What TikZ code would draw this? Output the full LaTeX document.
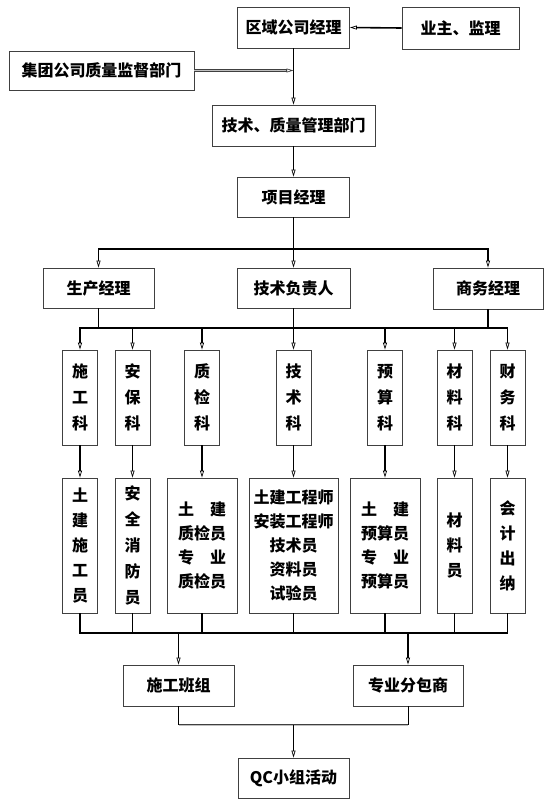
\documentclass[tikz,border=0pt]{standalone}
\usepackage{fontspec}
\setmainfont{Noto Sans CJK SC}
\usetikzlibrary{arrows.meta}

\begin{document}
\begin{tikzpicture}[x=1pt, y=-1pt,
		kasten/.style={draw=black!75, line width=0.8pt, inner sep=0pt, align=center, font=\fontsize{16}{24}\selectfont\bfseries},
		spalte/.style={kasten, minimum width=35pt, minimum height=95pt, font=\fontsize{16}{26}\selectfont\bfseries},
		stab/.style={kasten, minimum width=35pt, minimum height=135pt, font=\fontsize{16}{25}\selectfont\bfseries},
		feld/.style={kasten, minimum height=135pt},
		linie/.style={line width=1.6pt, line cap=rect},
		spitze/.tip={Triangle[open, length=7pt, width=4pt, line width=0.7pt]},
		pfeil/.style={line width=1.6pt, -spitze},
		doppel/.style={draw=black!75, double=black!25, double distance=0.7pt, line width=0.8pt}]
			\useasboundingbox (0,0) rectangle (552,809);
			
			% Leitungsebene
			\node[kasten, minimum width=112pt, minimum height=41pt] (qy) at (293.5,27.5) {区域公司经理};
			\node[kasten, minimum width=117pt, minimum height=42pt] (yz) at (460.5,28) {业主、监理};
			\node[kasten, minimum width=185pt, minimum height=39pt] (jt) at (101.5,70.5) {集团公司质量监督部门};
			\node[kasten, minimum width=163pt, minimum height=41pt] (jszl) at (293.5,125.5) {技术、质量管理部门};
			\node[kasten, minimum width=112pt, minimum height=40pt] (xm) at (293.5,197) {项目经理};
			\node[kasten, minimum width=111pt, minimum height=40pt] (sc) at (98.5,288) {生产经理};
			\node[kasten, minimum width=113pt, minimum height=40pt] (js) at (293.5,288) {技术负责人};
			\node[kasten, minimum width=110pt, minimum height=41pt] (sw) at (488,288.5) {商务经理};
			
			% Abteilungen
			\node[spalte] (k1) at (80,397.5) {施\\工\\科};
			\node[spalte] (k2) at (132.5,397.5) {安\\保\\科};
			\node[spalte] (k3) at (202,397.5) {质\\检\\科};
			\node[spalte] (k4) at (293.5,397.5) {技\\术\\科};
			\node[spalte] (k5) at (385,397.5) {预\\算\\科};
			\node[spalte] (k6) at (454.5,397.5) {材\\料\\科};
			\node[spalte] (k7) at (507.5,397.5) {财\\务\\科};
			
			% Personal
			\node[stab] (p1) at (80,545.5) {土\\建\\施\\工\\员};
			\node[stab, font=\fontsize{16}{26}\selectfont\bfseries] (p2) at (132.5,545.5) {安\\全\\消\\防\\员};
			\node[feld, minimum width=70pt] (p3) at (202,545.5) {土\hspace{1em}建\\质检员\\专\hspace{1em}业\\质检员};
			\node[feld, minimum width=89pt] (p4) at (293.5,545.5) {土建工程师\\安装工程师\\技术员\\资料员\\试验员};
			\node[feld, minimum width=70pt] (p5) at (385,545.5) {土\hspace{1em}建\\预算员\\专\hspace{1em}业\\预算员};
			\node[stab] (p6) at (454.5,545.5) {材\\料\\员};
			\node[stab] (p7) at (507.5,545.5) {会\\计\\出\\纳};
			
			% Ausfuehrung
			\node[kasten, minimum width=111pt, minimum height=41pt] (sb) at (178.5,685.5) {施工班组};
			\node[kasten, minimum width=110pt, minimum height=41pt] (zb) at (408,685.5) {专业分包商};
			\node[kasten, minimum width=111pt, minimum height=40pt] (qc) at (293.5,778) {QC小组活动};
			
			\coordinate (b1) at (0,249);
			\coordinate (b2) at (0,328);
			\coordinate (b3) at (0,633);
			\coordinate (qm) at (293.5,725);
			\coordinate (hz) at (jt.east -| qy.south);
			
			% Verbindungen oben
			\draw[pfeil] (yz.west) -- (qy.east);
			\draw[pfeil] (qy.south) -- (jszl.north);
			\draw[doppel] (jt.east) -- ([xshift=-7pt]hz);
			\draw[line width=0.9pt, draw=black!75, -spitze] ([xshift=-8pt]hz) -- (hz);
			\draw[pfeil] (jszl.south) -- (xm.north);
			\draw[linie] (sc.north |- b1) -- (sw.north |- b1);
			\draw[pfeil] (xm.south) -- (js.north);
			\draw[pfeil] (sc.north |- b1) -- (sc.north);
			\draw[pfeil] (sw.north |- b1) -- (sw.north);
			
			% Verbindungen Abteilungen
			\draw[linie] (k1.north |- b2) -- (k7.north |- b2);
			\draw[linie] (sc.south) -- (sc.south |- b2);
			\draw[linie] (js.south) -- (js.south |- b2);
			\draw[linie] (sw.south) -- (sw.south |- b2);
			\foreach \i in {1,...,7} {
				\draw[pfeil] (k\i.north |- b2) -- (k\i.north);
				\draw[pfeil] (k\i.south) -- (p\i.north);
				\draw[linie] (p\i.south) -- (p\i.south |- b3);
			}
			
			% Verbindungen unten
			\draw[linie] (p1.south |- b3) -- (p7.south |- b3);
			\draw[pfeil] (sb.north |- b3) -- (sb.north);
			\draw[pfeil] (zb.north |- b3) -- (zb.north);
			\draw[line width=0.8pt] (sb.south) -- (sb.south |- qm);
			\draw[line width=0.8pt] (zb.south) -- (zb.south |- qm);
			\draw[doppel] (sb.south |- qm) -- (zb.south |- qm);
			\draw[pfeil] (qm) -- (qc.north);
		\end{tikzpicture}
\end{document}
